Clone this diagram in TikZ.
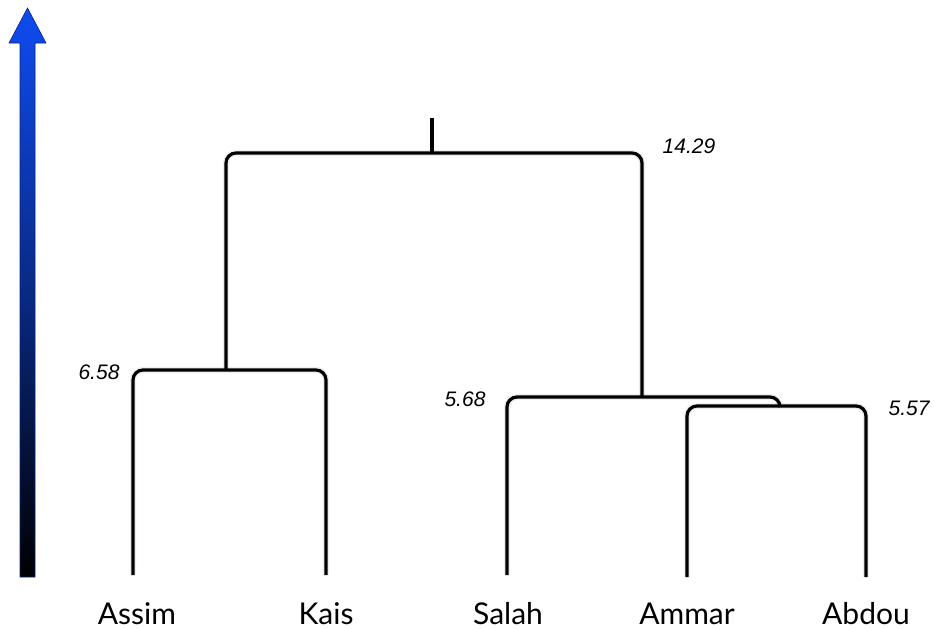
\documentclass[tikz,border=0pt]{standalone}
\usepackage{fontspec}
\setmainfont{Liberation Sans}
\newfontfamily\leaffont{Lato}
\usepackage{tikz}
\usetikzlibrary{positioning, calc, shadings}
\definecolor{axisblue}{RGB}{15,75,240}

\begin{document}
\begin{tikzpicture}[x=1pt, y=-1pt]
\tikzstyle{branch}=[line width=3.2pt, rounded corners=10pt, black]
\tikzstyle{shadow}=[line width=6pt, rounded corners=10pt, black, opacity=0.07]
\tikzstyle{leaf}=[font=\leaffont\fontsize{30}{30}\selectfont, anchor=base]
\tikzstyle{height}=[font=\itshape\fontsize{21}{21}\selectfont]

\useasboundingbox (0,0) rectangle (934,629);

% axis arrow
\shade[bottom color=black, top color=axisblue, middle color=axisblue!55!black, draw=axisblue!50!black, line width=0.6pt]
  (20,577) -- (20,43) -- (9,43) -- (27.5,8) -- (46,43) -- (35,43) -- (35,577) -- cycle;

% leaves
\coordinate (assim) at (133,575);
\coordinate (kais) at (326,575);
\coordinate (salah) at (507,575);
\coordinate (ammar) at (687,577);
\coordinate (abdou) at (866,577);
\node[leaf] (lassim) at (137,624) {Assim};
\node[leaf] (lkais) at (326,624) {Kais};
\node[leaf] (lsalah) at (508,624) {Salah};
\node[leaf] (lammar) at (687,624) {Ammar};
\node[leaf] (labdou) at (866,624) {Abdou};

% joins
\coordinate (ak) at (226,370);
\coordinate (root) at (432,153);
\coordinate (rootstub) at (432,118);
\coordinate (sa) at (642,397);
\coordinate (aa) at (780,406);

% shadows
\begin{scope}[shift={(3,4)}]
\draw[shadow] (assim) |- (ak) -| (kais);
\draw[shadow] (ak) |- (root) -| (sa);
\draw[shadow] (salah) |- (sa) -| (aa);
\draw[shadow] (ammar) |- (aa) -| (abdou);
\end{scope}

% branches
\draw[branch] (assim) |- (ak) -| (kais);
\draw[branch] (ak) |- (root) -| (sa);
\draw[branch] (root) -- (rootstub);
\draw[branch] (salah) |- (sa) -| (aa);
\draw[branch] (ammar) |- (aa) -| (abdou);

% heights
\node[height] (hak) at (99,372) {6.58};
\node[height] (hroot) at (689,146) {14.29};
\node[height] (hsa) at (465,399) {5.68};
\node[height] (haa) at (909,408) {5.57};

\end{tikzpicture}
\end{document}
